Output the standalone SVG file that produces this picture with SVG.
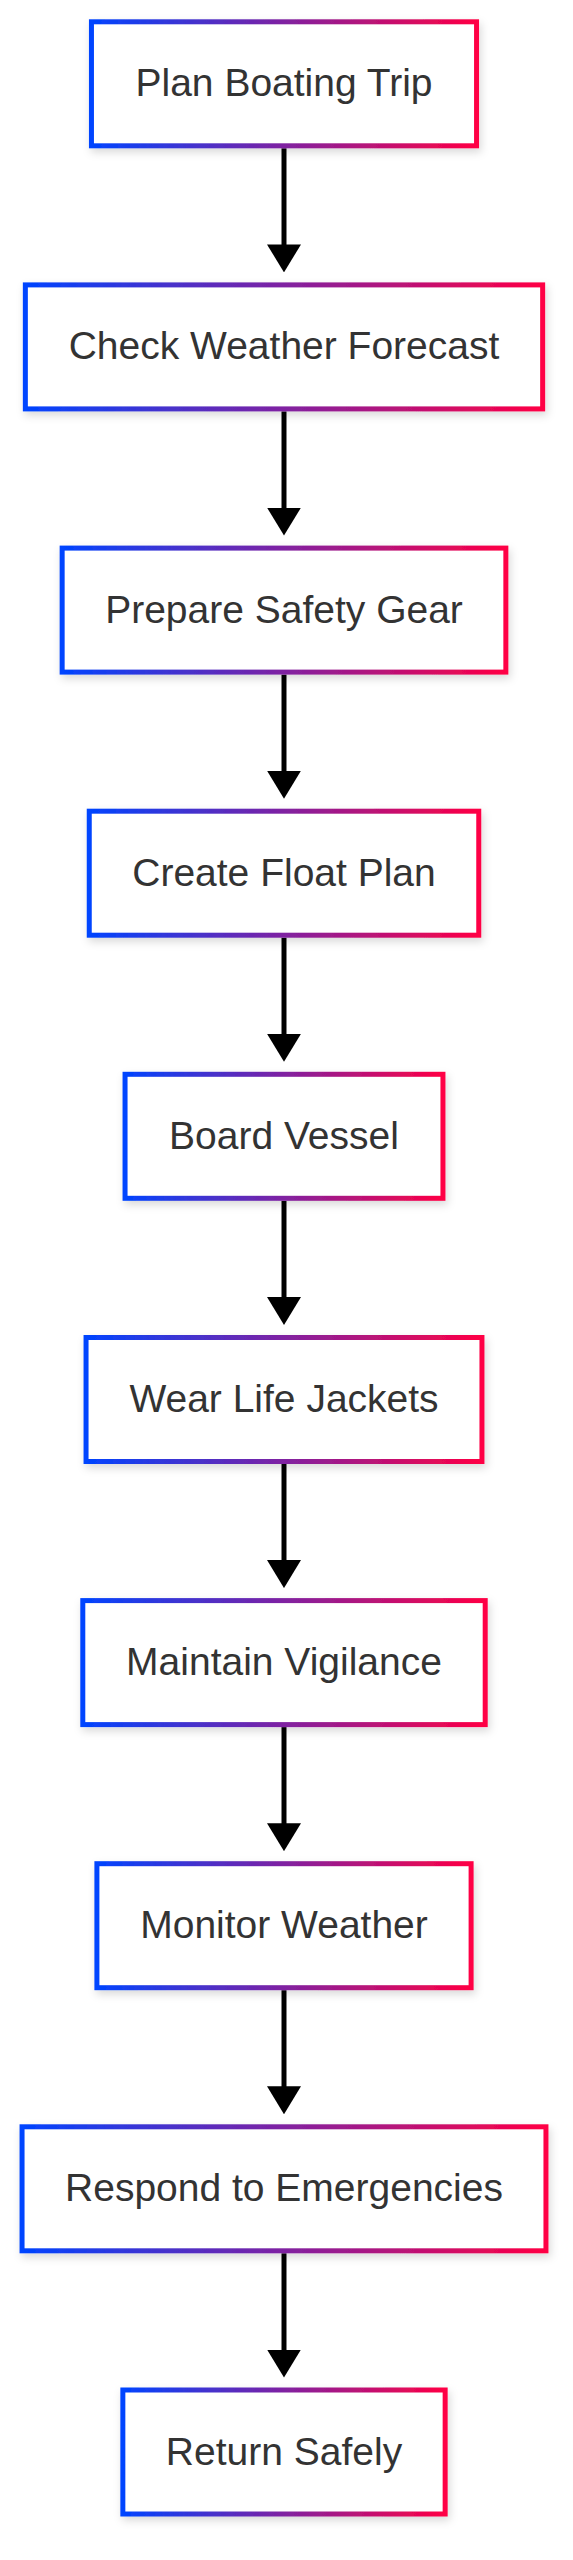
<svg xmlns="http://www.w3.org/2000/svg" width="573" height="2560" viewBox="0 0 573 2560">
  <style>
    .box { fill: #ffffff; stroke: url(#grad); stroke-width: 5; filter: url(#shadow); }
    .label { font-family: "Liberation Sans", Arial, sans-serif; font-size: 39px; fill: #333333; text-anchor: middle; }
    .edge { stroke: #000000; stroke-width: 5; fill: none; marker-end: url(#arrow); }
  </style>
  <defs>
    <linearGradient id="grad" x1="0" y1="0" x2="1" y2="0">
      <stop offset="0" stop-color="#0044ff"/>
      <stop offset="1" stop-color="#ff0044"/>
    </linearGradient>
    <filter id="shadow" x="-10%" y="-20%" width="120%" height="150%">
      <feDropShadow dx="2" dy="4" stdDeviation="4" flood-color="#000000" flood-opacity="0.15"/>
    </filter>
    <marker id="arrow" viewBox="0 0 28 34" refX="8" refY="17" markerWidth="28" markerHeight="34" markerUnits="userSpaceOnUse" orient="auto">
      <path d="M0,0 L28,17 L0,34 z" fill="#000000"/>
    </marker>
  </defs>
  <rect width="573" height="2560" fill="#ffffff"/>
  <g id="edges">
    <path class="edge" d="M284,148.3 L284,252.4"/>
    <path class="edge" d="M284,411.4 L284,515.6"/>
    <path class="edge" d="M284,674.6 L284,778.7"/>
    <path class="edge" d="M284,937.7 L284,1041.8"/>
    <path class="edge" d="M284,1200.8 L284,1305"/>
    <path class="edge" d="M284,1464 L284,1568.1"/>
    <path class="edge" d="M284,1727.1 L284,1831.2"/>
    <path class="edge" d="M284,1990.2 L284,2094.3"/>
    <path class="edge" d="M284,2253.3 L284,2357.5"/>
  </g>
  <g id="node1"><rect class="box" x="91.45" y="21.8" width="385.1" height="124"/><text class="label" x="284" y="96.3">Plan Boating Trip</text></g>
  <g id="node2"><rect class="box" x="25.35" y="284.9" width="517.3" height="124"/><text class="label" x="284" y="359.4">Check Weather Forecast</text></g>
  <g id="node3"><rect class="box" x="62.15" y="548.1" width="443.7" height="124"/><text class="label" x="284" y="622.6">Prepare Safety Gear</text></g>
  <g id="node4"><rect class="box" x="89.25" y="811.2" width="389.5" height="124"/><text class="label" x="284" y="885.7">Create Float Plan</text></g>
  <g id="node5"><rect class="box" x="125.05" y="1074.3" width="317.9" height="124"/><text class="label" x="284" y="1148.8">Board Vessel</text></g>
  <g id="node6"><rect class="box" x="86.05" y="1337.5" width="395.9" height="124"/><text class="label" x="284" y="1412">Wear Life Jackets</text></g>
  <g id="node7"><rect class="box" x="82.8" y="1600.6" width="402.4" height="124"/><text class="label" x="284" y="1675.1">Maintain Vigilance</text></g>
  <g id="node8"><rect class="box" x="96.9" y="1863.7" width="374.2" height="124"/><text class="label" x="284" y="1938.2">Monitor Weather</text></g>
  <g id="node9"><rect class="box" x="22.05" y="2126.8" width="523.9" height="124"/><text class="label" x="284" y="2201.3">Respond to Emergencies</text></g>
  <g id="node10"><rect class="box" x="122.85" y="2390" width="322.3" height="124"/><text class="label" x="284" y="2464.5">Return Safely</text></g>
</svg>
